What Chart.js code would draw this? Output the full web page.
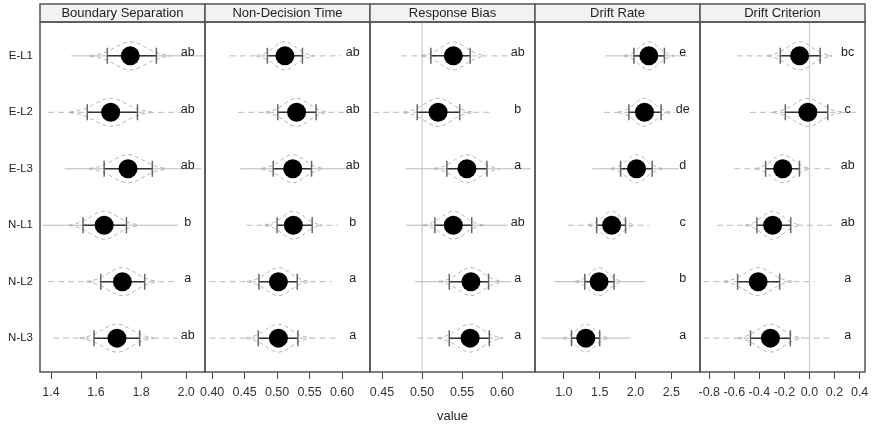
<!DOCTYPE html>
<html>
<head>
<meta charset="utf-8">
<script src="https://cdn.jsdelivr.net/npm/chart.js@4.4.0/dist/chart.umd.min.js"></script>
<style>
    html, body { margin: 0; padding: 0; background: #fff; }
    #wrap { width: 885px; height: 426px; }
</style>
</head>
<body>
<div id="wrap"><canvas id="myChart" width="885" height="426"></canvas></div>
<script>
var rows = ["E-L1", "E-L2", "E-L3", "N-L1", "N-L2", "N-L3"];
var panelNames = ["Boundary Separation", "Non-Decision Time", "Response Bias", "Drift Rate", "Drift Criterion"];

// Boundary Separation
var bsMean = [1.752, 1.665, 1.742, 1.636, 1.717, 1.693];
var bsLow = [1.650, 1.561, 1.636, 1.542, 1.621, 1.591];
var bsHigh = [1.868, 1.784, 1.850, 1.735, 1.816, 1.794];
var bsMin = [1.490, 1.387, 1.461, 1.364, 1.387, 1.409];
var bsMax = [2.080, 1.979, 2.068, 1.964, 1.964, 1.964];
var bsLetters = ["ab", "ab", "ab", "b", "a", "ab"];
var bsSolid = [1, 0, 1, 1, 0, 0];
var bsTicks = [1.4, 1.6, 1.8, 2.0];

// Non-Decision Time
var ndtMean = [0.512, 0.530, 0.524, 0.525, 0.502, 0.502];
var ndtLow = [0.485, 0.501, 0.494, 0.500, 0.472, 0.471];
var ndtHigh = [0.539, 0.560, 0.553, 0.554, 0.531, 0.532];
var ndtMin = [0.427, 0.440, 0.443, 0.453, 0.396, 0.396];
var ndtMax = [0.599, 0.604, 0.609, 0.594, 0.584, 0.594];
var ndtLetters = ["ab", "ab", "ab", "b", "a", "a"];
var ndtSolid = [0, 0, 1, 0, 0, 0];
var ndtTicks = [0.40, 0.45, 0.50, 0.55, 0.60];

// Response Bias
var rbMean = [0.539, 0.520, 0.556, 0.539, 0.561, 0.560];
var rbLow = [0.511, 0.494, 0.531, 0.516, 0.534, 0.534];
var rbHigh = [0.560, 0.547, 0.581, 0.562, 0.583, 0.584];
var rbMin = [0.474, 0.439, 0.480, 0.480, 0.491, 0.494];
var rbMax = [0.611, 0.588, 0.636, 0.607, 0.611, 0.607];
var rbLetters = ["ab", "b", "a", "ab", "a", "a"];
var rbSolid = [0, 0, 1, 1, 1, 0];
var rbTicks = [0.45, 0.50, 0.55, 0.60];

// Drift Rate
var drMean = [2.186, 2.125, 2.014, 1.667, 1.491, 1.306];
var drLow = [1.978, 1.908, 1.792, 1.458, 1.292, 1.107];
var drHigh = [2.403, 2.357, 2.232, 1.861, 1.700, 1.500];
var drMin = [1.583, 1.561, 1.399, 1.051, 0.867, 0.681];
var drMax = [2.718, 2.556, 2.603, 2.186, 2.139, 1.931];
var drLetters = ["e", "de", "d", "c", "b", "a"];
var drSolid = [1, 0, 1, 0, 1, 1];
var drTicks = [1.0, 1.5, 2.0, 2.5];

// Drift Criterion
var dcMean = [-0.079, -0.013, -0.214, -0.294, -0.410, -0.312];
var dcLow = [-0.233, -0.193, -0.350, -0.420, -0.574, -0.471];
var dcHigh = [0.085, 0.146, -0.080, -0.150, -0.238, -0.153];
var dcMin = [-0.582, -0.476, -0.600, -0.740, -0.847, -0.847];
var dcMax = [0.212, 0.380, 0.170, 0.180, 0.040, 0.185];
var dcLetters = ["bc", "c", "ab", "ab", "a", "a"];
var dcSolid = [0, 0, 0, 0, 0, 0];
var dcTicks = [-0.8, -0.6, -0.4, -0.2, 0.0, 0.2, 0.4];

var panels = [
    { mean: bsMean, low: bsLow, high: bsHigh, min: bsMin, max: bsMax, letters: bsLetters, solid: bsSolid, ticks: bsTicks, dec: 1, lim: [1.351, 2.084], ref: null },
    { mean: ndtMean, low: ndtLow, high: ndtHigh, min: ndtMin, max: ndtMax, letters: ndtLetters, solid: ndtSolid, ticks: ndtTicks, dec: 2, lim: [0.389, 0.643], ref: null },
    { mean: rbMean, low: rbLow, high: rbHigh, min: rbMin, max: rbMax, letters: rbLetters, solid: rbSolid, ticks: rbTicks, dec: 2, lim: [0.435, 0.641], ref: 0.5 },
    { mean: drMean, low: drLow, high: drHigh, min: drMin, max: drMax, letters: drLetters, solid: drSolid, ticks: drTicks, dec: 1, lim: [0.597, 2.90], ref: null },
    { mean: dcMean, low: dcLow, high: dcHigh, min: dcMin, max: dcMax, letters: dcLetters, solid: dcSolid, ticks: dcTicks, dec: 1, lim: [-0.874, 0.443], ref: 0 }
];

var FONT = "'Liberation Sans', Arial, sans-serif";

var datasets = [];
var scales = {};

panels.forEach(function (p, k) {
    var id = "x" + k;
    datasets.push({
        type: "scatter",
        xAxisID: id,
        yAxisID: "y",
        data: p.mean.map(function (m, i) { return { x: m, y: i + 1 }; }),
        pointRadius: 9.5,
        pointHoverRadius: 9.5,
        backgroundColor: "#000",
        borderWidth: 0,
        clip: false
    });
    scales[id] = {
        type: "linear",
        position: "bottom",
        stack: "panels",
        stackWeight: 1,
        min: p.lim[0],
        max: p.lim[1],
        afterBuildTicks: function (scale) {
            scale.ticks = p.ticks.map(function (v) { return { value: v }; });
        },
        afterFit: function (scale) {
            scale.height = 54;
        },
        ticks: {
            autoSkip: false,
            maxRotation: 0,
            padding: 6,
            color: "#333",
            font: { family: FONT, size: 12.5 },
            callback: function (v) { return Number(v).toFixed(p.dec); }
        },
        grid: { display: true, drawOnChartArea: false, drawTicks: true, tickLength: 7, color: "#444", lineWidth: 1 },
        border: { display: false }
    };
});

scales.y = {
    type: "linear",
    position: "left",
    reverse: true,
    min: 0.4,
    max: 6.6,
    afterBuildTicks: function (scale) {
        scale.ticks = rows.map(function (r, i) { return { value: i + 1 }; });
    },
    afterFit: function (scale) {
        scale.width = 40;
    },
    ticks: {
        padding: 7,
        color: "#222",
        font: { family: FONT, size: 11.5 },
        callback: function (v) { return rows[v - 1]; }
    },
    grid: { display: false, drawTicks: false },
    border: { display: false }
};

var latticePlugin = {
    id: "lattice",
    beforeDatasetsDraw: function (chart) {
        var ctx = chart.ctx;
        var area = chart.chartArea;
        var ys = chart.scales.y;
        panels.forEach(function (p, k) {
            var xs = chart.scales["x" + k];
            ctx.save();
            ctx.beginPath();
            ctx.rect(xs.left, area.top, xs.width, area.bottom - area.top);
            ctx.clip();

            if (p.ref !== null) {
                var rx = xs.getPixelForValue(p.ref);
                ctx.strokeStyle = "#cfcfcf";
                ctx.lineWidth = 1.3;
                ctx.beginPath();
                ctx.moveTo(rx, area.top);
                ctx.lineTo(rx, area.bottom);
                ctx.stroke();
            }

            for (var i = 0; i < rows.length; i++) {
                var y = ys.getPixelForValue(i + 1);
                // range line
                ctx.strokeStyle = "#bababa";
                ctx.lineWidth = 1;
                ctx.setLineDash(p.solid[i] ? [] : [6, 4]);
                ctx.beginPath();
                ctx.moveTo(xs.getPixelForValue(p.min[i]), y);
                ctx.lineTo(xs.getPixelForValue(p.max[i]), y);
                ctx.stroke();

                // density outline around the estimate
                var sd = (p.high[i] - p.low[i]) / 3.2;
                ctx.strokeStyle = "#b0b0b0";
                ctx.setLineDash([4, 3]);
                [-1, 1].forEach(function (side) {
                    ctx.beginPath();
                    for (var t = -2.6; t <= 2.601; t += 0.1) {
                        var px = xs.getPixelForValue(p.mean[i] + t * sd);
                        var py = y + side * 14 * Math.exp(-0.5 * t * t);
                        if (t === -2.6) ctx.moveTo(px, py); else ctx.lineTo(px, py);
                    }
                    ctx.stroke();
                });
                ctx.setLineDash([]);

                // error bar
                var x1 = xs.getPixelForValue(p.low[i]);
                var x2 = xs.getPixelForValue(p.high[i]);
                ctx.strokeStyle = "#333";
                ctx.lineWidth = 1.5;
                ctx.beginPath();
                ctx.moveTo(x1, y);
                ctx.lineTo(x2, y);
                ctx.stroke();
                ctx.strokeStyle = "#666";
                ctx.beginPath();
                ctx.moveTo(x1, y - 8);
                ctx.lineTo(x1, y + 8);
                ctx.moveTo(x2, y - 8);
                ctx.lineTo(x2, y + 8);
                ctx.stroke();
            }
            ctx.restore();
        });
    },
    afterDatasetsDraw: function (chart) {
        var ctx = chart.ctx;
        var area = chart.chartArea;
        var ys = chart.scales.y;
        ctx.save();
        panels.forEach(function (p, k) {
            var xs = chart.scales["x" + k];
            ctx.fillStyle = "#222";
            ctx.font = "12.5px " + FONT;
            ctx.textAlign = "center";
            ctx.textBaseline = "alphabetic";
            for (var i = 0; i < rows.length; i++) {
                var y = ys.getPixelForValue(i + 1);
                ctx.fillText(p.letters[i], xs.left + 0.895 * xs.width, y + 0.5);
            }

            // strip
            ctx.fillStyle = "#f2f2f2";
            ctx.fillRect(xs.left, 4, xs.width, area.top - 4);
            ctx.strokeStyle = "#555";
            ctx.lineWidth = 1.5;
            ctx.strokeRect(xs.left, 4, xs.width, area.top - 4);
            ctx.fillStyle = "#222";
            ctx.font = "13px " + FONT;
            ctx.textBaseline = "middle";
            ctx.fillText(panelNames[k], xs.left + xs.width / 2, (4 + area.top) / 2 + 0.5);

            // panel frame
            ctx.strokeRect(xs.left, area.top, xs.width, area.bottom - area.top);
        });

        ctx.fillStyle = "#222";
        ctx.font = "13px " + FONT;
        ctx.textAlign = "center";
        ctx.textBaseline = "middle";
        ctx.fillText("value", (area.left + area.right) / 2, 416);
        ctx.restore();
    }
};

var ctx = document.getElementById("myChart").getContext("2d");
var myChart = new Chart(ctx, {
    type: "scatter",
    data: { datasets: datasets },
    options: {
        responsive: false,
        animation: false,
        layout: { padding: { top: 22, right: 20, left: 0, bottom: 0 } },
        plugins: {
            legend: { display: false },
            tooltip: { enabled: false }
        },
        scales: scales
    },
    plugins: [latticePlugin]
});
</script>
</body>
</html>
